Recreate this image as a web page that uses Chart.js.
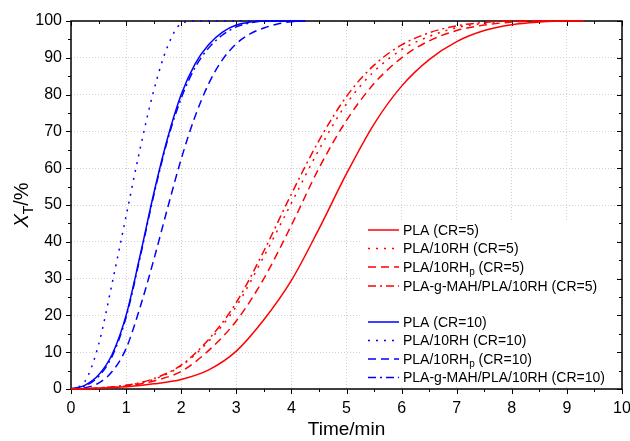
<!DOCTYPE html>
<html>
<head>
<meta charset="utf-8">
<script src="https://cdn.jsdelivr.net/npm/chart.js@4.4.1/dist/chart.umd.min.js"></script>
<style>
  html, body { margin: 0; padding: 0; background: #fff; }
</style>
</head>
<body>
<canvas id="chart" width="630" height="441"></canvas>
<script>
// time axis (min) for each group of curves
const timesRed = [0, 0.5, 1, 1.5, 2, 2.5, 3, 3.5, 4, 4.5, 5, 5.5, 6, 6.5, 7, 7.5, 8, 8.5, 9, 9.3];
const timesBlue = [0, 0.25, 0.5, 0.75, 1, 1.25, 1.5, 1.75, 2, 2.25, 2.5, 2.75, 3, 3.25, 3.5, 3.75, 4, 4.25];

// relative crystallinity X_T (%), CR=5
const pla5 = [0, 0.2, 0.6, 1.4, 2.6, 5.2, 10.3, 18.8, 29.5, 43.5, 58.5, 72, 82.3, 89.5, 94.4, 97.4, 99, 99.7, 100, 100];
const rh5 = [0, 0.3, 1.0, 2.6, 6.3, 13, 22.5, 36, 50.5, 65, 77.5, 86.3, 92.2, 95.8, 98.2, 99.4, 100, 100, 100, 100];
const rhp5 = [0, 0.2, 0.8, 2.2, 4.8, 10.5, 18.5, 30, 44.5, 60, 73, 83, 90, 94.6, 97.4, 98.9, 99.7, 100, 100, 100];
const mah5 = [0, 0.3, 1.0, 2.8, 6.5, 13.5, 23.5, 37.5, 53, 67.5, 79.5, 88, 93.5, 96.8, 98.7, 99.6, 100, 100, 100, 100];

// CR=10
const pla10 = [0, 1, 3.8, 9.5, 20, 36, 53, 68, 80, 88.3, 93.6, 97, 98.9, 99.7, 100, 100, 100, 100];
const rh10 = [0, 2, 12, 29, 47, 65, 81, 93, 99.3, 100, 100, 100, 100, 100, 100, 100, 100, 100];
const rhp10 = [0, 0.3, 1.6, 4.8, 11, 22, 35, 49, 62.5, 74, 83, 89.5, 93.8, 96.5, 98.1, 99.2, 99.8, 100];
const mah10 = [0, 0.8, 3.4, 9, 19.5, 35.5, 52.5, 67.5, 79, 87.3, 92.7, 96.2, 98.4, 99.5, 100, 100, 100, 100];

const labels = [
    "PLA (CR=5)",
    "PLA/10RH (CR=5)",
    "PLA/10RH_p (CR=5)",
    "PLA-g-MAH/PLA/10RH (CR=5)",
    "PLA (CR=10)",
    "PLA/10RH (CR=10)",
    "PLA/10RH_p (CR=10)",
    "PLA-g-MAH/PLA/10RH (CR=10)",
];

const FONT = "'Liberation Sans', Arial, Helvetica, sans-serif";
const RED = "#ff0000";
const BLUE = "#0000ff";
const dashes = [[], [2, 6], [8, 5], [8, 4, 2, 4]];

Chart.defaults.font.family = FONT;
Chart.defaults.color = "#000";

function pts(xs, ys) {
    return xs.map((x, i) => ({ x: x, y: ys[i] }));
}

const series = [
    [timesRed, pla5], [timesRed, rh5], [timesRed, rhp5], [timesRed, mah5],
    [timesBlue, pla10], [timesBlue, rh10], [timesBlue, rhp10], [timesBlue, mah10],
];

const datasets = series.map((s, i) => ({
    label: labels[i],
    data: pts(s[0], s[1]),
    borderColor: i < 4 ? RED : BLUE,
    borderDash: dashes[i % 4],
    borderWidth: 1.5,
    pointRadius: 0,
    fill: false,
    cubicInterpolationMode: "monotone",
    clip: 3,
}));

// frame with major/minor ticks on all four sides
const framePlugin = {
    id: "frame",
    beforeDatasetsDraw(chart) {
        const { ctx, chartArea: a, scales: { x, y } } = chart;
        ctx.save();
        ctx.strokeStyle = "#000";
        ctx.lineWidth = 1;
        ctx.beginPath();
        for (let v = 0; v <= 10.001; v += 0.5) {
            const px = Math.round(x.getPixelForValue(v)) + 0.5;
            const len = Math.abs(v - Math.round(v)) < 1e-6 ? 5 : 3;
            ctx.moveTo(px, a.bottom); ctx.lineTo(px, a.bottom + len);
            ctx.moveTo(px, a.top); ctx.lineTo(px, a.top + len);
        }
        for (let v = 0; v <= 100.001; v += 5) {
            const py = Math.round(y.getPixelForValue(v)) + 0.5;
            const len = v % 10 === 0 ? 5 : 3;
            ctx.moveTo(a.left, py); ctx.lineTo(a.left - len, py);
            ctx.moveTo(a.right, py); ctx.lineTo(a.right - len, py);
        }
        ctx.stroke();
        ctx.lineWidth = 1.5;
        ctx.strokeRect(a.left, a.top, a.right - a.left, a.bottom - a.top);
        ctx.restore();
    },
};

// draws "text_p" with p as subscript
function drawRich(ctx, text, x, y, size) {
    const parts = text.split(/_(\w)/);
    let cx = x;
    parts.forEach((p, i) => {
        const sub = i % 2 === 1;
        ctx.font = (sub ? Math.round(size * 0.7) : size) + "px " + FONT;
        ctx.fillText(p, cx, sub ? y + 4 : y);
        cx += ctx.measureText(p).width;
    });
}

const legendPlugin = {
    id: "boxLegend",
    afterDatasetsDraw(chart) {
        const { ctx } = chart;
        const rows = [230, 248.5, 267, 286, 322, 340.5, 359, 377.5];
        ctx.save();
        ctx.fillStyle = "#fff";
        ctx.fillRect(360, 221, 255, 166);
        chart.data.datasets.forEach((ds, i) => {
            const yy = rows[i];
            ctx.strokeStyle = ds.borderColor;
            ctx.lineWidth = 1.5;
            ctx.setLineDash(ds.borderDash);
            ctx.beginPath();
            ctx.moveTo(368, yy);
            ctx.lineTo(399, yy);
            ctx.stroke();
            ctx.setLineDash([]);
            ctx.fillStyle = "#000";
            ctx.textBaseline = "middle";
            drawRich(ctx, ds.label, 403, yy + 1, 14);
        });
        ctx.restore();
    },
    afterDraw(chart) {
        // y axis title: X_T/%
        const { ctx } = chart;
        ctx.save();
        ctx.translate(28, 205);
        ctx.rotate(-Math.PI / 2);
        ctx.fillStyle = "#000";
        ctx.textBaseline = "alphabetic";
        const big = "20px " + FONT;
        const it = "italic 20px " + FONT;
        const small = "14px " + FONT;
        ctx.font = it; const w1 = ctx.measureText("X").width;
        ctx.font = small; const w2 = ctx.measureText("T").width;
        ctx.font = big; const w3 = ctx.measureText("/%").width;
        let cx = -(w1 + w2 + w3) / 2;
        ctx.font = it; ctx.fillText("X", cx, 0); cx += w1;
        ctx.font = small; ctx.fillText("T", cx, 5); cx += w2;
        ctx.font = big; ctx.fillText("/%", cx, 0);
        ctx.restore();
    },
};

new Chart(document.getElementById("chart").getContext("2d"), {
    type: "line",
    data: { datasets },
    options: {
        responsive: false,
        animation: false,
        layout: { padding: { top: 21, right: 8, left: 0, bottom: 0 } },
        plugins: {
            legend: { display: false },
            tooltip: { enabled: false },
        },
        scales: {
            x: {
                type: "linear",
                min: 0,
                max: 10,
                afterFit: s => { s.height = 52; s.paddingLeft = 0; s.paddingRight = 0; },
                ticks: { stepSize: 1, padding: 10, color: "#000", font: { size: 16 } },
                grid: { color: "#d0d0d0", lineWidth: 1, drawTicks: false },
                border: { display: false, dash: [1, 2] },
                title: {
                    display: true,
                    text: "Time/min",
                    color: "#000",
                    font: { size: 19 },
                    padding: { top: 0, bottom: 0 },
                },
            },
            y: {
                min: 0,
                max: 100,
                afterFit: s => { s.width = 71; s.paddingTop = 0; s.paddingBottom = 0; },
                ticks: { stepSize: 10, padding: 9, color: "#000", font: { size: 16 } },
                grid: { color: "#d0d0d0", lineWidth: 1, drawTicks: false },
                border: { display: false, dash: [1, 2] },
            },
        },
    },
    plugins: [framePlugin, legendPlugin],
});
</script>
</body>
</html>
